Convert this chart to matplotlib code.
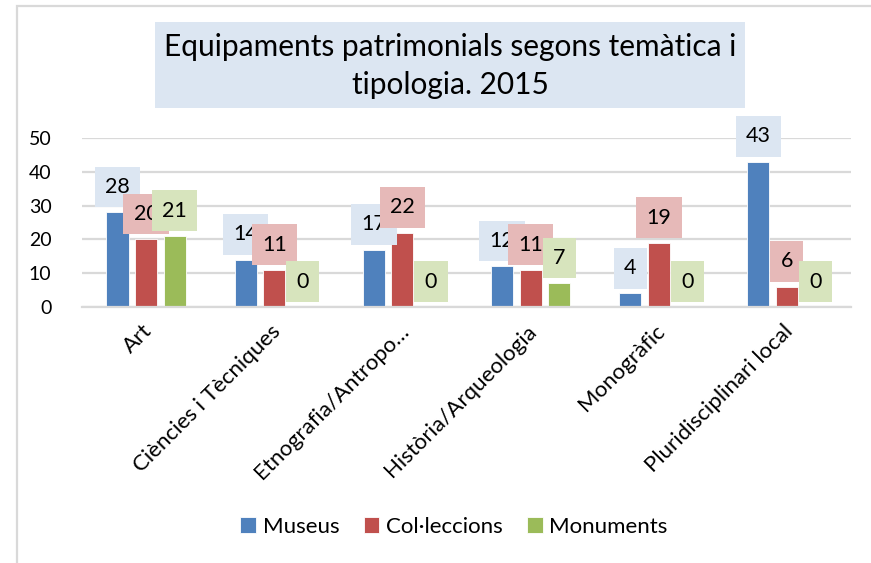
import matplotlib
matplotlib.use("Agg")
import matplotlib.pyplot as plt
from matplotlib.patches import Rectangle
import numpy as np

plt.rcParams['font.family'] = ['Lato', 'DejaVu Sans']

categories = ["Art", "Ciències i Tècniques", "Etnografia/Antropo…",
              "Història/Arqueologia", "Monogràfic", "Pluridisciplinari local"]
series_names = ["Museus", "Col·leccions", "Monuments"]
museus = [28, 14, 17, 12, 4, 43]
colleccions = [20, 11, 22, 11, 19, 6]
monuments = [21, 0, 0, 7, 0, 0]
yticks = [0, 10, 20, 30, 40, 50]
title = "Equipaments patrimonials segons temàtica i\ntipologia. 2015"

bar_colors = ["#4F81BD", "#C0504D", "#9BBB59"]
label_bg = ["#DCE6F2", "#E6B9B8", "#D7E4BD"]

W, H = 871, 563
fig = plt.figure(figsize=(W / 100, H / 100), dpi=100)

# chart border
fig.patches.append(Rectangle((17 / W, -0.1), 1.2, 1 - 6.5 / H + 0.1, transform=fig.transFigure,
                             facecolor="none", edgecolor="#D9D9D9", linewidth=1.6))

ax = fig.add_axes([82 / W, 1 - 307 / H, (851 - 82) / W, (307 - 138) / H])
x = np.arange(len(categories))
width = 0.172
step = 0.223
data = [museus, colleccions, monuments]
for i, (vals, name) in enumerate(zip(data, series_names)):
    pos = x + (i - 1) * step
    ax.bar(pos, vals, width, color=bar_colors[i], label=name, zorder=2,
           edgecolor="white", linewidth=0.6)
for i, vals in enumerate(data):
    pos = x + (i - 1) * step
    for p, v in zip(pos, vals):
        ax.annotate(str(v), xy=(p, v), xytext=(0, 11), textcoords="offset points",
                    ha="center", va="bottom", fontsize=15.5, color="black",
                    zorder=5 + i, annotation_clip=False,
                    bbox=dict(boxstyle="square,pad=0.48", facecolor=label_bg[i],
                              edgecolor="none"))

ax.set_xlim(-0.5, len(categories) - 0.5)
ax.set_ylim(0, 50)
ax.set_yticks(yticks)
ax.set_yticklabels([str(t) for t in yticks], fontsize=14, color="black")
ax.yaxis.grid(True, color="#D9D9D9", linewidth=1.6, zorder=0)
ax.set_axisbelow(True)
for s in ["top", "right", "left"]:
    ax.spines[s].set_visible(False)
ax.spines["bottom"].set_color("#D9D9D9")
ax.spines["bottom"].set_linewidth(1.6)
ax.tick_params(axis="both", length=0)
ax.tick_params(axis="y", pad=22)
ax.set_xticks(x - 0.03)
ax.set_xticklabels(categories, rotation=45, ha="right", va="top",
                   rotation_mode="anchor", fontsize=16, color="black")
ax.tick_params(axis="x", pad=10)

# title box
fig.patches.append(Rectangle((155 / W, 1 - 108 / H), (745 - 155) / W, 86 / H,
                             transform=fig.transFigure, facecolor="#DCE6F2",
                             edgecolor="none"))
fig.text(450 / W, 1 - 66 / H, title, ha="center", va="center", fontsize=21.5,
         linespacing=1.45, color="black")

fig.legend(loc="center", bbox_to_anchor=(454 / W, 1 - 527 / H), ncol=3,
           frameon=False, fontsize=16, handlelength=0.7, handleheight=0.7,
           handletextpad=0.3, columnspacing=1.1)

fig.savefig("out.png", dpi=100)
